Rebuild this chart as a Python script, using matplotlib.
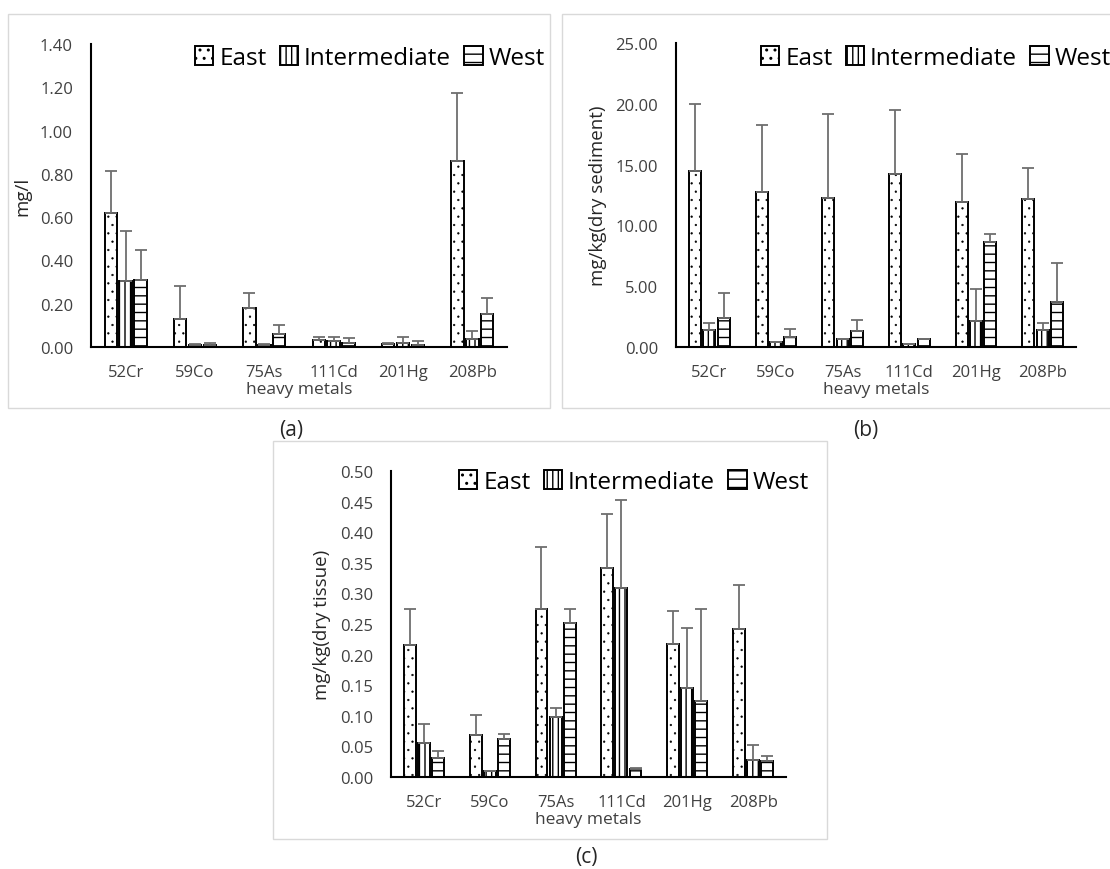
import numpy as np
import matplotlib
matplotlib.use("Agg")
import matplotlib.pyplot as plt
from matplotlib.patches import Rectangle
from matplotlib.ticker import FormatStrFormatter, MultipleLocator

plt.rcParams['font.family'] = ['Open Sans', 'DejaVu Sans']
plt.rcParams['hatch.linewidth'] = 1.0

W, H = 1110, 870
METALS = ["52Cr", "59Co", "75As", "111Cd", "201Hg", "208Pb"]
SITES = ["East", "Intermediate", "West"]

# (a) water, mg/l : mean and +sd
a_east = [0.618, 0.128, 0.182, 0.032, 0.012, 0.860]
a_east_sd = [0.196, 0.154, 0.069, 0.016, 0.005, 0.312]
a_int = [0.305, 0.011, 0.011, 0.028, 0.020, 0.037]
a_int_sd = [0.232, 0.002, 0.004, 0.017, 0.025, 0.035]
a_west = [0.310, 0.008, 0.060, 0.020, 0.011, 0.151]
a_west_sd = [0.139, 0.012, 0.040, 0.020, 0.015, 0.077]

# (b) sediment, mg/kg
b_east = [14.45, 12.75, 12.23, 14.20, 11.92, 12.14]
b_east_sd = [5.55, 5.52, 6.95, 5.33, 3.98, 2.61]
b_int = [1.37, 0.41, 0.63, 0.22, 2.17, 1.43]
b_int_sd = [0.58, 0.04, 0.06, 0.02, 2.61, 0.52]
b_west = [2.42, 0.85, 1.29, 0.63, 8.63, 3.74]
b_west_sd = [1.98, 0.61, 0.91, 0.05, 0.66, 3.18]

# (c) tissue, mg/kg
c_east = [0.215, 0.068, 0.275, 0.341, 0.218, 0.242]
c_east_sd = [0.059, 0.033, 0.101, 0.089, 0.053, 0.072]
c_int = [0.056, 0.009, 0.098, 0.309, 0.146, 0.028]
c_int_sd = [0.030, 0.001, 0.014, 0.143, 0.098, 0.024]
c_west = [0.031, 0.062, 0.251, 0.0136, 0.125, 0.026]
c_west_sd = [0.011, 0.008, 0.024, 0.001, 0.150, 0.008]

HATCH = ["..", "|||", "--"]
HATCH_LW = [0.4, 1.0, 1.0]
TXT = "#404040"


def px_axes(fig, l, r, t, b):
    return fig.add_axes([l / W, 1 - b / H, (r - l) / W, (b - t) / H])


def panel(ax, series, sds, ymax, step, ylabel, leg_xy):
    x = np.arange(len(METALS))
    bw, off = 0.18, 0.215
    handles = []
    for k, (m, s) in enumerate(zip(series, sds)):
        xs = x + (k - 1) * off
        with plt.rc_context({'hatch.linewidth': HATCH_LW[k]}):
            h = ax.bar(xs, m, bw, color="white", edgecolor="black", lw=1.4,
                       hatch=HATCH[k], label=SITES[k], zorder=2)
        handles.append(h)
        ax.errorbar(xs, m, yerr=[np.zeros(len(m)), s], fmt="none", ecolor="#6e6e6e",
                    elinewidth=1.3, capsize=4, capthick=1.3, zorder=3)
    ax.set_xlim(-0.5, len(METALS) - 0.5)
    ax.set_ylim(0, ymax)
    ax.yaxis.set_major_locator(MultipleLocator(step))
    ax.yaxis.set_major_formatter(FormatStrFormatter("%.2f"))
    ax.set_xticks(x, METALS)
    ax.tick_params(length=0, labelsize=12, colors=TXT)
    ax.tick_params(axis="y", pad=13)
    ax.tick_params(axis="x", pad=12)
    for sp in ("top", "right"):
        ax.spines[sp].set_visible(False)
    for sp in ("left", "bottom"):
        ax.spines[sp].set_linewidth(1.5)
    ax.set_xlabel("heavy metals", fontsize=12.5, color=TXT, labelpad=1)
    ax.set_ylabel(ylabel, fontsize=13.5, color="#262626", labelpad=6)
    ax.legend(handles=handles, loc="upper right", ncol=3, frameon=False, fontsize=17.5,
              bbox_to_anchor=(leg_xy[0] / W, 1 - leg_xy[1] / H),
              bbox_transform=ax.figure.transFigure, borderaxespad=0, borderpad=0,
              handlelength=0.75, handleheight=0.8, handletextpad=0.25, columnspacing=0.55)


fig = plt.figure(figsize=(W / 100, H / 100), dpi=100)

# light grey frames round each panel
for (l, t, r, b) in [(8, 15, 550, 409), (562, 15, 1116, 409), (273, 442, 827, 840)]:
    fig.patches.append(Rectangle((l / W, 1 - b / H), (r - l) / W, (b - t) / H,
                                 transform=fig.transFigure, fill=False,
                                 edgecolor="#d9d9d9", lw=1.0))

ax_a = px_axes(fig, 91, 507, 45, 348)
panel(ax_a, [a_east, a_int, a_west], [a_east_sd, a_int_sd, a_west_sd],
      1.40, 0.2, "mg/l", (545, 47))

ax_b = px_axes(fig, 676, 1076, 44, 348)
panel(ax_b, [b_east, b_int, b_west], [b_east_sd, b_int_sd, b_west_sd],
      25, 5, "mg/kg(dry sediment)", (1111, 47))

ax_c = px_axes(fig, 391, 786, 472, 778)
panel(ax_c, [c_east, c_int, c_west], [c_east_sd, c_int_sd, c_west_sd],
      0.50, 0.05, "mg/kg(dry tissue)", (809, 471))

for lab, (xx, yy) in [("(a)", (291, 431)), ("(b)", (866, 431)), ("(c)", (586, 858))]:
    fig.text(xx / W, 1 - yy / H, lab, fontsize=15, color="#262626", ha="center", va="center")

fig.savefig("out.png", dpi=100)
